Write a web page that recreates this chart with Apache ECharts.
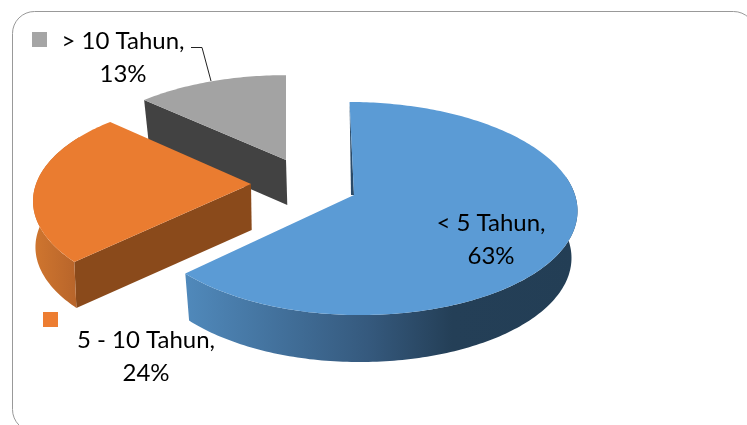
<!DOCTYPE html>
<html>
<head>
<meta charset="utf-8">
<style>
  html, body { margin: 0; padding: 0; background: #fff; }
  #chart { width: 747px; height: 425px; }
</style>
</head>
<body>
<div id="chart"></div>
<script src="https://cdn.jsdelivr.net/npm/echarts@6/dist/echarts.min.js"></script>
<script>
// data, clockwise from 12 o'clock
var categories = ['< 5 Tahun', '5 - 10 Tahun', '> 10 Tahun']
var values = [63, 24, 13]

// slice placement on the page (exploded pie, fake perspective)
var slices = [
  { x: 354, y: 195, rx: 221, rxLeft: 216, ry: 104.8, k: 0.127, shear: 5, depth: 47, squeeze: 0.975, z: 30, sliver: 3,
    top: '#5b9bd5', wall: '#2a4a68',
    rim: [[0, '#5089bb'], [0.47, '#35597d'], [0.68, '#243f57'], [1, '#233e55']],
    label: [491, 222] },
  { x: 251, y: 184, rx: 215, rxLeft: 215, ry: 101, k: 0.165, shear: 0, depth: 46, squeeze: 0.992, z: 20, sliver: 0,
    top: '#ea7c30', wall: '#8a4a1b',
    rim: [[0, '#d0762f'], [1, '#b5632a']],
    label: [146, 339] },
  { x: 286, y: 160, rx: 209, rxLeft: 209, ry: 94, k: 0.108, shear: 0, depth: 45, squeeze: 0.975, z: 10, sliver: 0,
    top: '#a3a3a3', wall: '#424242',
    rim: [[0, '#808080'], [1, '#808080']],
    label: [123, 40] }
]

var total = values.reduce(function (a, b) { return a + b }, 0)
var vanishX = 337

function topPoint (s, deg) {
  var a = deg * Math.PI / 180
  var u = Math.sin(a)
  var v = -Math.cos(a)
  var p = 1 / (1 - s.k * v)
  var r = u < 0 ? s.rxLeft : s.rx
  return [s.x + (u * r + v * s.shear) * p, s.y + v * s.ry * p]
}

function bottomPoint (s, pt) {
  return [vanishX + (pt[0] - vanishX) * s.squeeze, pt[1] + s.depth]
}

function arc (s, from, to) {
  var pts = []
  var n = Math.max(2, Math.ceil(Math.abs(to - from)))
  for (var i = 0; i <= n; i++) {
    pts.push(topPoint(s, from + (to - from) * i / n))
  }
  return pts
}

function wall (s, deg, fill, z) {
  var apex = [s.x, s.y]
  var rimPt = topPoint(s, deg)
  return {
    type: 'polygon',
    z2: z,
    shape: { points: [apex, rimPt, bottomPoint(s, rimPt), bottomPoint(s, apex)] },
    style: { fill: fill }
  }
}

function renderSlice (params, api) {
  var i = params.dataIndex
  var s = slices[i]
  var before = 0
  for (var j = 0; j < i; j++) before += values[j]
  var start = before / total * 360
  var end = start + api.value(0) / total * 360
  var children = []

  // cut faces that look towards the viewer
  if (start > 180 && start < 360) children.push(wall(s, start, s.wall, s.z))
  if (end > 0 && end < 180) children.push(wall(s, end, s.wall, s.z))

  // outer rim, only the front part of the circle shows
  var from = Math.max(start, 80)
  var to = Math.min(end, 300)
  if (to > from) {
    var upper = arc(s, from, to)
    var lower = upper.map(function (p) { return bottomPoint(s, p) }).reverse()
    var xs = upper.concat(lower).map(function (p) { return p[0] })
    var minX = Math.min.apply(null, xs)
    var maxX = Math.max.apply(null, xs)
    children.push({
      type: 'polygon',
      z2: s.z + 1,
      shape: { points: upper.concat(lower) },
      style: {
        fill: new echarts.graphic.LinearGradient(minX, 0, maxX, 0, s.rim.map(function (c) {
          return { offset: c[0], color: c[1] }
        }), true)
      }
    })
  }

  // thin dark sliver beside the 12 o'clock cut
  if (s.sliver) {
    children.push({
      type: 'polygon',
      z2: s.z + 1,
      shape: { points: [topPoint(s, start), [s.x, s.y], [s.x - s.sliver, s.y]] },
      style: { fill: s.wall }
    })
  }

  // top face
  children.push({
    type: 'polygon',
    z2: s.z + 2,
    shape: { points: [[s.x, s.y]].concat(arc(s, start, end)) },
    style: { fill: s.top }
  })

  children.push({
    type: 'text',
    z2: 50,
    style: {
      x: s.label[0],
      y: s.label[1],
      text: categories[i] + ',\n' + api.value(0) + '%',
      fill: '#000',
      font: '24px Lato',
      align: 'center',
      verticalAlign: 'top',
      lineHeight: 33
    },
    y: -15
  })

  return { type: 'group', children: children }
}

var chart = echarts.init(document.getElementById('chart'))
chart.setOption({
  animation: false,
  backgroundColor: '#fff',
  graphic: [
    { type: 'rect', shape: { x: 12.5, y: 11.5, width: 743, height: 420, r: 22 }, style: { fill: 'none', stroke: '#999', lineWidth: 1 } },
    { type: 'rect', shape: { x: 32, y: 32, width: 15, height: 15 }, style: { fill: '#a5a5a5' } },
    { type: 'rect', shape: { x: 43, y: 312, width: 15, height: 15 }, style: { fill: '#ed7d31' } },
    { type: 'polyline', shape: { points: [[191, 47.5], [202, 47.5], [211, 81]] }, style: { fill: 'none', stroke: '#222', lineWidth: 1 }, z: 10 }
  ],
  series: [{
    type: 'custom',
    coordinateSystem: 'none',
    renderItem: renderSlice,
    data: values.map(function (v) { return [v] })
  }]
})
</script>
</body>
</html>
